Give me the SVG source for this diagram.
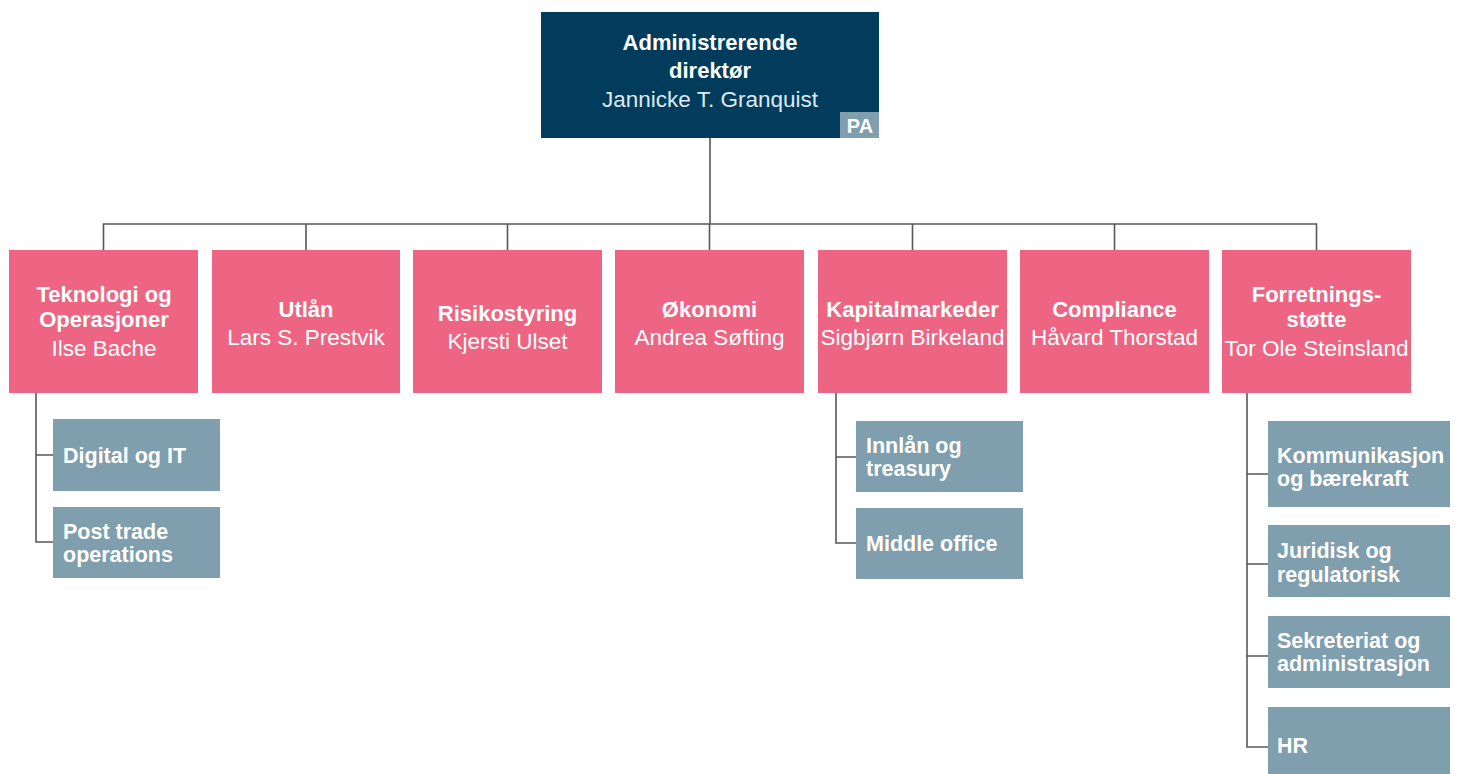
<svg xmlns="http://www.w3.org/2000/svg" width="1461" height="774" viewBox="0 0 1461 774">
<style>
.bg{fill:#ffffff}
.top{fill:#013c5c}
.pink{fill:#ee6583}
.sub{fill:#7f9eae}
.t{font-family:"Liberation Sans",Arial,sans-serif;font-weight:bold;font-size:22px;fill:#ffffff;text-anchor:middle}
.n{font-family:"Liberation Sans",Arial,sans-serif;font-weight:normal;font-size:22.5px;fill:#ffffff;text-anchor:middle}
.nt{font-family:"Liberation Sans",Arial,sans-serif;font-weight:normal;font-size:22.5px;fill:#dfe8ee;text-anchor:middle}
.s{font-family:"Liberation Sans",Arial,sans-serif;font-weight:bold;font-size:21.5px;fill:#ffffff}
.pa{font-family:"Liberation Sans",Arial,sans-serif;font-weight:bold;font-size:20px;fill:#ffffff;text-anchor:middle}
.c{fill:none;stroke:#585858;stroke-width:1.6}
</style>
<rect class="bg" x="0" y="0" width="1461" height="774"/>
<g id="connectors">
<path class="c" d="M710,138 V224 M103.5,250 V224 H1316.5 V250 M306,224 V250 M507.5,224 V250 M709.5,224 V250 M912.5,224 V250 M1114.5,224 V250"/>
<path class="c" d="M36,393 V542 H53 M36,455 H53"/>
<path class="c" d="M836,393 V543 H856 M836,457 H856"/>
<path class="c" d="M1247,393 V747 H1268 M1247,474 H1268 M1247,564 H1268 M1247,656 H1268"/>
</g>
<g id="ceo">
<rect class="top" x="541" y="12" width="338" height="126"/>
<text class="t"><tspan x="710" y="50">Administrerende</tspan><tspan x="710" y="78">direktør</tspan></text>
<text class="nt" x="710" y="107">Jannicke T. Granquist</text>
<g id="pa">
<rect class="sub" x="840" y="112" width="39" height="26"/>
<text class="pa" x="860" y="133">PA</text>
</g>
</g>
<g id="teknologi">
<rect class="pink" x="9" y="250" width="189" height="143"/>
<text class="t"><tspan x="104" y="302">Teknologi og</tspan><tspan x="104" y="327">Operasjoner</tspan></text>
<text class="n" x="104" y="356">Ilse Bache</text>
</g>
<g id="utlan">
<rect class="pink" x="212" y="250" width="188" height="143"/>
<text class="t" x="306" y="317">Utlån</text>
<text class="n" x="306" y="345">Lars S. Prestvik</text>
</g>
<g id="risiko">
<rect class="pink" x="413" y="250" width="189" height="143"/>
<text class="t" x="507.5" y="321">Risikostyring</text>
<text class="n" x="507.5" y="349">Kjersti Ulset</text>
</g>
<g id="okonomi">
<rect class="pink" x="615" y="250" width="189" height="143"/>
<text class="t" x="709.5" y="317">Økonomi</text>
<text class="n" x="709.5" y="345">Andrea Søfting</text>
</g>
<g id="kapital">
<rect class="pink" x="818" y="250" width="189" height="143"/>
<text class="t" x="912.5" y="317">Kapitalmarkeder</text>
<text class="n" x="912.5" y="345">Sigbjørn Birkeland</text>
</g>
<g id="compliance">
<rect class="pink" x="1020" y="250" width="189" height="143"/>
<text class="t" x="1114.5" y="317">Compliance</text>
<text class="n" x="1114.5" y="345">Håvard Thorstad</text>
</g>
<g id="forretning">
<rect class="pink" x="1222" y="250" width="189" height="143"/>
<text class="t"><tspan x="1316.5" y="302">Forretnings-</tspan><tspan x="1316.5" y="327">støtte</tspan></text>
<text class="n" x="1316.5" y="356">Tor Ole Steinsland</text>
</g>
<g id="digital">
<rect class="sub" x="53" y="419" width="167" height="72"/>
<text class="s" x="63" y="463">Digital og IT</text>
</g>
<g id="posttrade">
<rect class="sub" x="53" y="507" width="167" height="71"/>
<text class="s"><tspan x="63" y="539">Post trade</tspan><tspan x="63" y="562">operations</tspan></text>
</g>
<g id="innlan">
<rect class="sub" x="856" y="421" width="167" height="71"/>
<text class="s"><tspan x="866" y="453">Innlån og</tspan><tspan x="866" y="476">treasury</tspan></text>
</g>
<g id="middle">
<rect class="sub" x="856" y="508" width="167" height="71"/>
<text class="s" x="866" y="551">Middle office</text>
</g>
<g id="kommunikasjon">
<rect class="sub" x="1268" y="421" width="182" height="86"/>
<text class="s"><tspan x="1277" y="463">Kommunikasjon</tspan><tspan x="1277" y="486">og bærekraft</tspan></text>
</g>
<g id="juridisk">
<rect class="sub" x="1268" y="525" width="182" height="72"/>
<text class="s"><tspan x="1277" y="558">Juridisk og</tspan><tspan x="1277" y="582">regulatorisk</tspan></text>
</g>
<g id="sekreteriat">
<rect class="sub" x="1268" y="616" width="182" height="72"/>
<text class="s"><tspan x="1277" y="648">Sekreteriat og</tspan><tspan x="1277" y="671">administrasjon</tspan></text>
</g>
<g id="hr">
<rect class="sub" x="1268" y="707" width="182" height="67"/>
<text class="s" x="1277" y="753">HR</text>
</g>
</svg>
